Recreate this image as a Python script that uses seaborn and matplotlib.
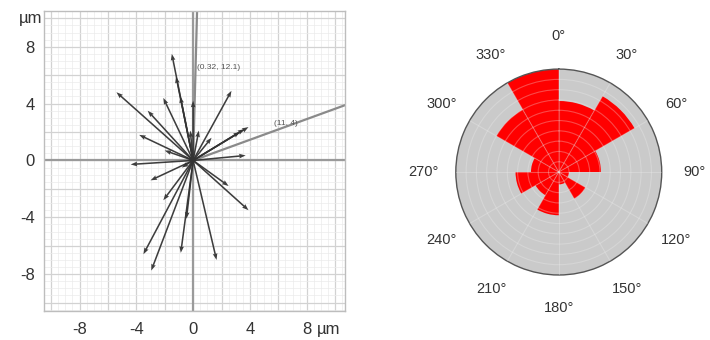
import numpy as np
import matplotlib
matplotlib.use("Agg")
import matplotlib.pyplot as plt
from matplotlib.ticker import MultipleLocator, FuncFormatter
import seaborn as sns

# ---- data: displacement vectors (tips, in µm), all starting at the origin ----
arrow_x = [-1.5, -1.2, -0.9, -5.4, 2.7, -2.1, -3.2, -3.8, -2.0, 3.9, 3.6, 3.3,
           1.3, 0.4, -0.2, 0.0, 3.7, -4.4, -3.0, -2.1, -3.5, -2.95, -0.87,
           -0.47, 1.65, 3.9, 2.5, -0.8]
arrow_y = [7.5, 5.9, 4.5, 4.8, 4.9, 4.4, 3.5, 1.8, 0.7, 2.35, 2.2, 2.0,
           1.6, 2.1, 2.1, 4.2, 0.35, -0.28, -1.4, -2.8, -6.6, -7.75, -6.5,
           -4.1, -7.0, -3.5, -1.8, -0.5]
# long outlier vectors with their labels
long_x = [0.32, 11]
long_y = [12.1, 4]
long_labels = ["(0.32, 12.1)", "(11, 4)"]
long_label_pos_x = [0.25, 5.7]
long_label_pos_y = [6.4, 2.5]

# ---- data: rose diagram (30° bins, starting at 0°) ----
bin_start_deg = [0, 30, 60, 90, 120, 150, 180, 210, 240, 270, 300, 330]
bin_counts = [6.9, 8.5, 4.1, 1.0, 3.0, 1.2, 4.2, 2.6, 4.2, 2.7, 7.0, 10.0]
theta_tick_deg = [0, 30, 60, 90, 120, 150, 180, 210, 240, 270, 300, 330]
theta_tick_labels = [f"{d}°" for d in theta_tick_deg]

sns.set_theme(style="white")
plt.rcParams["font.family"] = ["Liberation Sans", "DejaVu Sans"]

fig = plt.figure(figsize=(7.1, 3.4), dpi=100)
fig.patch.set_facecolor("white")

# ---------------- left: vector plot ----------------
ax = fig.add_axes([0.062, 0.085, 0.424, 0.882])
ax.set_facecolor("white")
ax.set_xlim(-10.5, 10.7)
ax.set_ylim(-10.6, 10.5)
ax.xaxis.set_major_locator(MultipleLocator(2))
ax.yaxis.set_major_locator(MultipleLocator(2))
ax.xaxis.set_minor_locator(MultipleLocator(0.5))
ax.yaxis.set_minor_locator(MultipleLocator(0.5))
lab = lambda v, p: (f"{int(round(v))}" if abs(round(v)) % 4 == 0 and abs(v) <= 8 else "")
ax.xaxis.set_major_formatter(FuncFormatter(lab))
ax.yaxis.set_major_formatter(FuncFormatter(lab))
ax.grid(which="major", color="#d2d2d2", lw=0.9)
ax.grid(which="minor", color="#ebebeb", lw=0.5)
ax.set_axisbelow(True)
ax.tick_params(which="both", length=0, labelsize=12, colors="#333333")
ax.tick_params(axis="x", pad=8)
ax.tick_params(axis="y", pad=6.5)
for s in ax.spines.values():
    s.set_color("#bdbdbd")
    s.set_linewidth(1.0)

ax.axhline(0, color="#9a9a9a", lw=1.6, zorder=1.5)
ax.axvline(0, color="#9a9a9a", lw=1.6, zorder=1.5)

# long vectors (run off the frame)
for lx, ly in zip(long_x, long_y):
    ax.plot([0, lx], [0, ly], color="#8a8a8a", lw=1.6, zorder=2, solid_capstyle="butt")
for t, tx, ty in zip(long_labels, long_label_pos_x, long_label_pos_y):
    ax.text(tx, ty, t, fontsize=6, color="#555555", zorder=3)

ax.quiver(np.zeros(len(arrow_x)), np.zeros(len(arrow_y)), arrow_x, arrow_y,
          angles="xy", scale_units="xy", scale=1, color="#333333", alpha=0.95,
          width=0.0052, headwidth=3.0, headlength=4.2, headaxislength=3.8, zorder=3)

ax.annotate("µm", xy=(8, 0), xycoords=("data", "axes fraction"), xytext=(7, -8),
            textcoords="offset points", ha="left", va="top", fontsize=12, color="#333333")
ax.annotate("µm", xy=(0, 10), xycoords=("axes fraction", "data"), xytext=(-1, 0),
            textcoords="offset points", ha="right", va="center", fontsize=12, color="#333333")

# ---------------- right: rose diagram ----------------
pax = fig.add_axes([0.642, 0.191, 0.290, 0.606], projection="polar")
pax.set_theta_zero_location("N")
pax.set_theta_direction(-1)
pax.set_facecolor("#cacaca")
pax.bar(np.deg2rad(bin_start_deg), bin_counts, width=np.deg2rad(30), align="edge",
        color="#ff0000", edgecolor="none", zorder=1)
pax.set_ylim(0, 10)
pax.set_yticks(np.arange(1, 10))
pax.set_yticklabels([])
pax.set_xticks(np.deg2rad(theta_tick_deg))
pax.set_xticklabels(theta_tick_labels)
pax.tick_params(axis="x", length=0, pad=16.5, labelsize=10.5, colors="#333333")
pax.set_axisbelow(False)
pax.grid(True, color="#f0f0f0", alpha=0.3, lw=0.8)
pax.spines["polar"].set_color("#555555")
pax.spines["polar"].set_linewidth(1.0)

fig.savefig("out.png", dpi=100, facecolor="white")
